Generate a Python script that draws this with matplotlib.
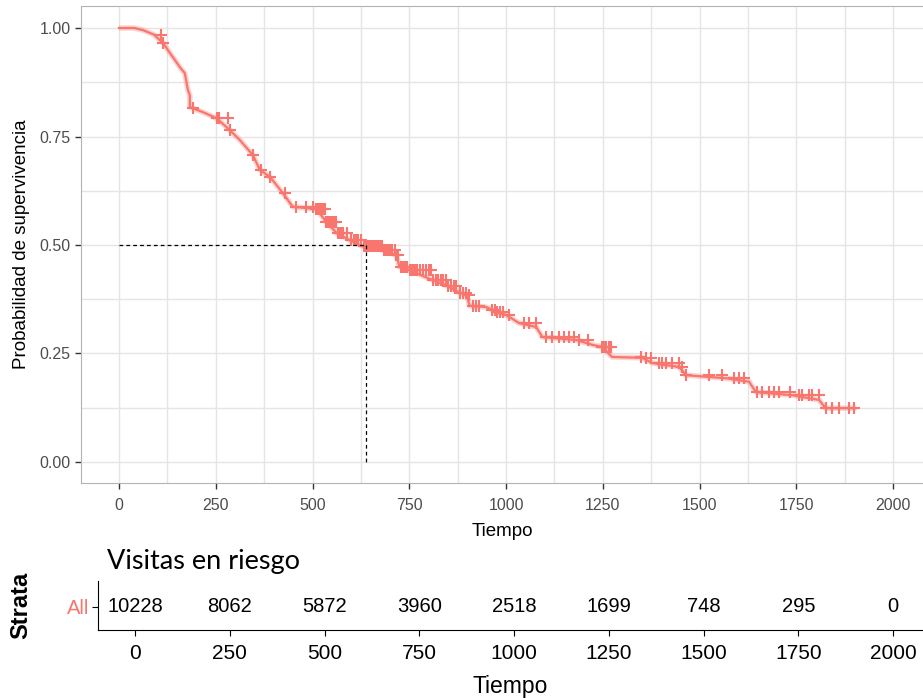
import numpy as np
import matplotlib.pyplot as plt

plt.rcParams['font.family'] = ['Liberation Sans', 'DejaVu Sans']

# Curva de Kaplan-Meier
t_curve = [0, 40, 62, 90, 114, 132, 157, 170, 178, 183, 183, 191, 220, 252, 286,
           312, 346, 364, 390, 423, 449, 510, 536, 562, 596, 630, 682, 716, 725,
           750, 811, 850, 880, 898, 906, 949, 965, 975, 1000, 1034, 1078, 1094,
           1182, 1223, 1249, 1274, 1352, 1378, 1448, 1465, 1568, 1628, 1646,
           1739, 1809, 1826, 1904]
s_curve = [1.0, 1.0, 0.995, 0.985, 0.965, 0.942, 0.91, 0.896, 0.857, 0.845, 0.818,
           0.815, 0.805, 0.792, 0.765, 0.742, 0.707, 0.673, 0.657, 0.62, 0.588,
           0.583, 0.553, 0.528, 0.511, 0.497, 0.488, 0.477, 0.45, 0.442, 0.419,
           0.405, 0.39, 0.385, 0.36, 0.357, 0.35, 0.345, 0.339, 0.32, 0.311, 0.288,
           0.281, 0.27, 0.265, 0.242, 0.24, 0.228, 0.219, 0.2, 0.193, 0.185, 0.161,
           0.154, 0.143, 0.124, 0.124]

# Tiempos censurados (marcas +)
t_cens = [108, 114, 191, 252, 258, 281, 286, 346, 368, 390, 428, 458, 484, 500,
          510, 515, 520, 524, 528, 532, 536, 540, 545, 548, 552, 556, 560, 565,
          570, 575, 580, 590, 600, 606, 612, 618, 625, 632, 638, 643, 648, 652,
          655, 659, 662, 666, 670, 675, 680, 685, 690, 695, 700, 706, 712, 716,
          720, 728, 735, 740, 745, 752, 756, 760, 765, 770, 778, 785, 792, 800,
          806, 812, 818, 825, 831, 838, 844, 850, 858, 865, 872, 880, 888, 897,
          905, 914, 922, 931, 965, 971, 978, 985, 991, 1008, 1047, 1060, 1077,
          1103, 1120, 1138, 1150, 1163, 1176, 1189, 1211, 1249, 1254, 1258, 1265,
          1271, 1348, 1361, 1374, 1396, 1404, 1413, 1430, 1447, 1456, 1465, 1525,
          1559, 1589, 1602, 1615, 1649, 1662, 1679, 1692, 1705, 1735, 1757, 1766,
          1783, 1791, 1808, 1826, 1843, 1860, 1886, 1900]

mediana = 638

# Tabla de riesgo
t_tabla = [0, 250, 500, 750, 1000, 1250, 1500, 1750, 2000]
en_riesgo = [10228, 8062, 5872, 3960, 2518, 1699, 748, 295, 0]

col = '#F8766D'
W, H = 923, 698
fig = plt.figure(figsize=(W / 100, H / 100), dpi=100)

# --- Panel superior ---
ax = fig.add_axes([81 / W, 1 - 483 / H, (W - 81) / W, 477 / H])
ax.set_xlim(-98.2, 2077.5)
ax.set_ylim(-0.0484, 1.0507)

ax.plot(t_curve, s_curve, color=col, lw=4, alpha=0.3, solid_capstyle='butt', zorder=2)
ax.plot(t_curve, s_curve, color=col, lw=1.6, zorder=3)

# y de cada marca = valor de la curva en ese tiempo
tc = np.array(t_curve)
sc = np.array(s_curve)
idx = np.searchsorted(tc, t_cens, side='right') - 1
ax.plot(t_cens, sc[idx], ls='none', marker='+', ms=8, mew=1.5, color=col, zorder=4)

ax.plot([0, mediana], [0.5, 0.5], ls=(0, (3, 2.5)), color='black', lw=0.9, zorder=5)
ax.plot([mediana, mediana], [0.5, 0], ls=(0, (3, 2.5)), color='black', lw=0.9, zorder=5)

ax.set_xticks(t_tabla)
ax.set_xticks(np.arange(125, 2000, 250), minor=True)
ax.set_yticks([0, 0.25, 0.5, 0.75, 1.0])
ax.set_yticks([0.125, 0.375, 0.625, 0.875], minor=True)
ax.set_yticklabels(['0.00', '0.25', '0.50', '0.75', '1.00'])
ax.grid(True, which='both', color='#E5E5E5', lw=1)
ax.set_axisbelow(True)
ax.tick_params(which='major', length=4, width=1, color='#333333',
               labelsize=11.5, labelcolor='#4D4D4D')
ax.tick_params(axis='x', pad=7)
ax.tick_params(which='minor', length=0)
for s in ['left', 'bottom', 'top']:
    ax.spines[s].set_color('#B3B3B3')
ax.spines['right'].set_visible(False)
ax.set_xlabel('Tiempo', fontsize=13.5, labelpad=7)
ax.set_ylabel('Probabilidad de supervivencia', fontsize=13.5, labelpad=7)

# --- Tabla de riesgo ---
at = fig.add_axes([97.7 / W, 1 - 630 / H, (W - 97.7) / W, 49 / H])
at.set_xlim(-98.4, 2079)
at.set_ylim(0, 1)
for t, n in zip(t_tabla, en_riesgo):
    at.text(t, 0.47, str(n), ha='center', va='center', fontsize=14.5, color='black')
at.set_xticks(t_tabla)
at.set_yticks([0.47])
at.set_yticklabels(['All'])
at.get_yticklabels()[0].set_color(col)
at.tick_params(axis='x', length=4, labelsize=15, pad=6, color='black')
at.tick_params(axis='y', length=4, labelsize=14.5, pad=2, color='black')
at.spines['top'].set_visible(False)
at.spines['right'].set_visible(False)
at.set_xlabel('Tiempo', fontsize=16.5, labelpad=9)
at.set_ylabel('Strata', fontsize=17, fontweight='bold', labelpad=25)

fig.text(107 / W, 1 - 562 / H, 'Visitas en riesgo', fontsize=19.5,
         family=['Lato', 'DejaVu Sans'], ha='left', va='center')

fig.savefig('out.png', dpi=100)
